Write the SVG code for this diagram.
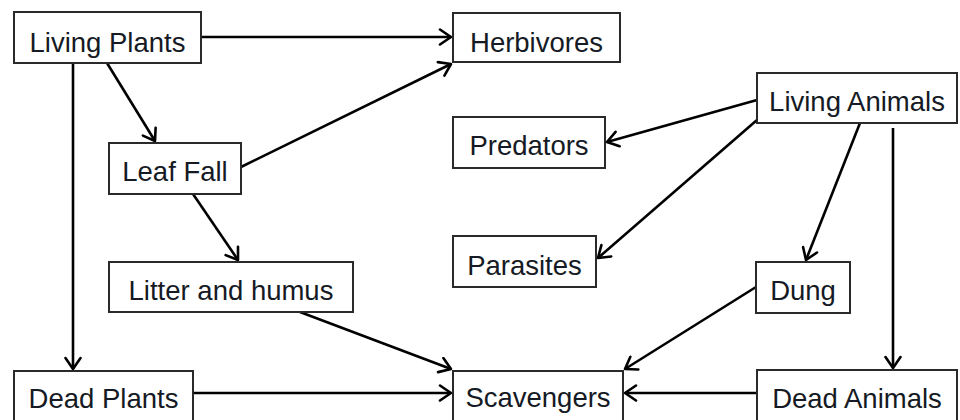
<svg xmlns="http://www.w3.org/2000/svg" width="960" height="420" viewBox="0 0 960 420">
  <style>
    .box { fill: #fff; stroke: #2a2a2a; stroke-width: 2; }
    .lbl { font-family: "Liberation Sans", Arial, sans-serif; font-size: 27.5px; fill: #151a24; text-anchor: middle; }
    .edge { stroke: #000; stroke-width: 2.6; fill: none; marker-end: url(#ah); }
  </style>
  <defs>
    <marker id="ah" viewBox="-13 -9 15 18" markerWidth="15" markerHeight="18" refX="0" refY="0" orient="auto" markerUnits="userSpaceOnUse">
      <path d="M-11,-7.5 L0,0 L-11,7.5" fill="none" stroke="#000" stroke-width="2.6" stroke-linejoin="round" stroke-linecap="round"/>
    </marker>
  </defs>
  <rect width="960" height="420" fill="#fff"/>

  <g id="connectors">
    <line class="edge" x1="201" y1="37" x2="451" y2="37"/>
    <line class="edge" x1="107" y1="63" x2="155" y2="141"/>
    <line class="edge" x1="73" y1="63" x2="73" y2="369"/>
    <line class="edge" x1="241" y1="167" x2="451" y2="64"/>
    <line class="edge" x1="193" y1="194" x2="238" y2="260"/>
    <line class="edge" x1="300" y1="312" x2="451" y2="369"/>
    <line class="edge" x1="193" y1="393" x2="451" y2="393"/>
    <line class="edge" x1="757" y1="100" x2="607" y2="142"/>
    <line class="edge" x1="757" y1="120" x2="598" y2="258"/>
    <line class="edge" x1="860" y1="123" x2="806" y2="260"/>
    <line class="edge" x1="893" y1="128" x2="893" y2="368"/>
    <line class="edge" x1="756" y1="287" x2="625" y2="369"/>
    <line class="edge" x1="757" y1="393" x2="625" y2="393"/>
  </g>

  <g id="living-plants"><rect class="box" x="14" y="12" width="187" height="51"/><text class="lbl" x="107.5" y="52">Living Plants</text></g>
  <g id="herbivores"><rect class="box" x="453" y="13" width="167" height="49"/><text class="lbl" x="536.5" y="52">Herbivores</text></g>
  <g id="living-animals"><rect class="box" x="757" y="73" width="200" height="50"/><text class="lbl" x="857" y="111">Living Animals</text></g>
  <g id="predators"><rect class="box" x="453" y="117" width="152" height="51"/><text class="lbl" x="529" y="155">Predators</text></g>
  <g id="leaf-fall"><rect class="box" x="109" y="143" width="132" height="51"/><text class="lbl" x="175" y="181">Leaf Fall</text></g>
  <g id="parasites"><rect class="box" x="453" y="236" width="143" height="51"/><text class="lbl" x="524.5" y="275">Parasites</text></g>
  <g id="litter-humus"><rect class="box" x="109" y="262" width="244" height="50"/><text class="lbl" x="231" y="300">Litter and humus</text></g>
  <g id="dung"><rect class="box" x="756" y="262" width="94" height="51"/><text class="lbl" x="803" y="300">Dung</text></g>
  <g id="dead-plants"><rect class="box" x="14" y="371" width="179" height="60"/><text class="lbl" x="103.5" y="408">Dead Plants</text></g>
  <g id="scavengers"><rect class="box" x="453" y="371" width="170" height="60"/><text class="lbl" x="538" y="407">Scavengers</text></g>
  <g id="dead-animals"><rect class="box" x="757" y="370" width="200" height="61"/><text class="lbl" x="857" y="408">Dead Animals</text></g>
</svg>
